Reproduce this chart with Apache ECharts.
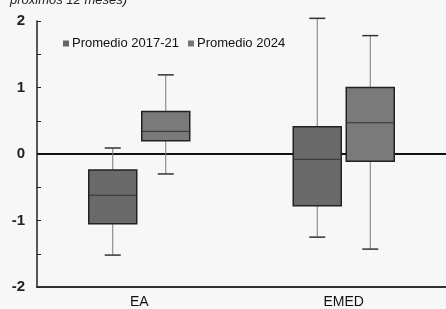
<!DOCTYPE html>
<html>
<head>
<meta charset="utf-8">
<script src="https://cdn.jsdelivr.net/npm/echarts@6/dist/echarts.min.js"></script>
<style>
  html, body { margin: 0; padding: 0; background: #f7f7f7; }
  #chart { width: 446px; height: 309px; }
</style>
</head>
<body>
<div id="chart"></div>
<script>
// categorias y valores: [min, Q1, mediana, Q3, max]
const categories = ["EA", "EMED"];
const seriesNames = ["Promedio 2017-21", "Promedio 2024"];
const prom2017 = [
  [-1.52, -1.05, -0.62, -0.24, 0.09],
  [-1.25, -0.78, -0.08, 0.41, 2.04],
];
const prom2024 = [
  [-0.30, 0.20, 0.34, 0.64, 1.19],
  [-1.43, -0.11, 0.47, 1.00, 1.78],
];
const yTicks = [-2, -1, 0, 1, 2];

const chart = echarts.init(document.getElementById("chart"));

function toData(arr) {
  return arr.map((v, i) => [i].concat(v));
}

function makeRender(offset, fill) {
  return function (params, api) {
    const c = api.value(0);
    const p = (v) => api.coord([c, v]);
    const lo = p(api.value(1));
    const q1 = p(api.value(2));
    const md = p(api.value(3));
    const q3 = p(api.value(4));
    const hi = p(api.value(5));
    const x = lo[0] + offset;
    const bw = 48;
    const cap = 8;
    const wh = { stroke: "#7a7a7a", lineWidth: 1 };
    const cp = { stroke: "#333", lineWidth: 1.5 };
    return {
      type: "group",
      children: [
        { type: "line", shape: { x1: x, y1: hi[1], x2: x, y2: q3[1] }, style: wh },
        { type: "line", shape: { x1: x, y1: q1[1], x2: x, y2: lo[1] }, style: wh },
        { type: "line", shape: { x1: x - cap, y1: hi[1], x2: x + cap, y2: hi[1] }, style: cp },
        { type: "line", shape: { x1: x - cap, y1: lo[1], x2: x + cap, y2: lo[1] }, style: cp },
        {
          type: "rect",
          shape: { x: x - bw / 2, y: q3[1], width: bw, height: q1[1] - q3[1] },
          style: { fill: fill, stroke: "#222", lineWidth: 1.5 },
        },
        { type: "line", shape: { x1: x - bw / 2, y1: md[1], x2: x + bw / 2, y2: md[1] }, style: { stroke: "#333", lineWidth: 1 } },
      ],
    };
  };
}

const option = {
  animation: false,
  backgroundColor: "#f7f7f7",
  graphic: [
    {
      type: "text",
      left: 10,
      top: -6,
      style: {
        text: "próximos 12 meses)",
        font: "italic 13px 'Liberation Sans', Arial, sans-serif",
        fill: "#222",
      },
    },
  ],
  legend: {
    data: seriesNames,
    left: 58,
    top: 32,
    icon: "rect",
    itemWidth: 6,
    itemHeight: 6,
    itemGap: 9,
    textStyle: { fontFamily: "Liberation Sans", fontSize: 13, color: "#111", padding: [0, 0, 0, -2] },
  },
  grid: { left: 37, right: 0, top: 21, bottom: 20 },
  xAxis: {
    type: "category",
    data: categories,
    axisLine: { onZero: false, lineStyle: { color: "#333", width: 2 } },
    axisTick: { show: false },
    axisLabel: { fontFamily: "Liberation Sans", fontSize: 14, color: "#111", margin: 8 },
  },
  yAxis: {
    type: "value",
    min: -2,
    max: 2,
    interval: 0.5,
    axisLine: { show: true, lineStyle: { color: "#222", width: 1.5 } },
    axisTick: { show: true, inside: true, length: 4, lineStyle: { color: "#222" } },
    splitLine: { show: false },
    axisLabel: {
      fontFamily: "Liberation Sans",
      fontSize: 15,
      fontWeight: "bold",
      color: "#222",
      margin: 12,
      formatter: (v) => (yTicks.includes(v) ? String(v) : ""),
    },
  },
  series: [
    {
      name: seriesNames[0],
      type: "custom",
      itemStyle: { color: "#666" },
      encode: { x: 0, y: [1, 2, 3, 4, 5] },
      renderItem: makeRender(-26.5, "#6a6a6a"),
      data: toData(prom2017),
      markLine: {
        silent: true,
        symbol: "none",
        label: { show: false },
        lineStyle: { color: "#111", width: 2, type: "solid" },
        data: [{ yAxis: 0 }],
        z: 1,
      },
      z: 3,
    },
    {
      name: seriesNames[1],
      type: "custom",
      itemStyle: { color: "#777" },
      encode: { x: 0, y: [1, 2, 3, 4, 5] },
      renderItem: makeRender(26.5, "#7a7a7a"),
      data: toData(prom2024),
      z: 3,
    },
  ],
};

chart.setOption(option);
</script>
</body>
</html>
